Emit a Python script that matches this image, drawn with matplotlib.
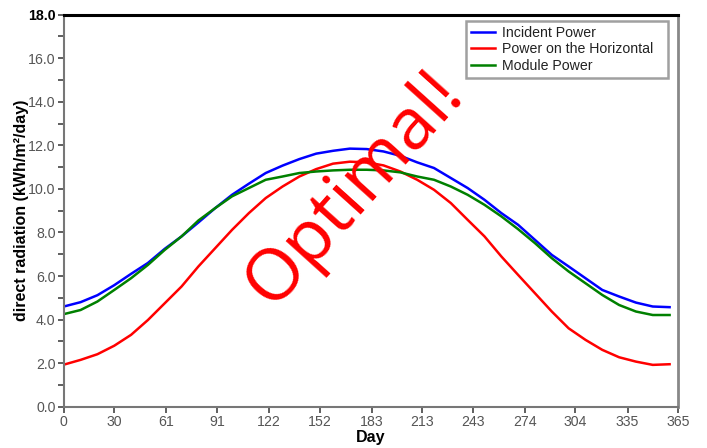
import matplotlib
matplotlib.use("Agg")
import matplotlib.pyplot as plt
from matplotlib.ticker import MultipleLocator

days = [0, 10, 20, 30, 40, 50, 60, 70, 80, 90, 100, 110, 120, 130, 140, 150, 160, 170, 180,
        190, 200, 210, 220, 230, 240, 250, 260, 270, 280, 290, 300, 310, 320, 330, 340, 350, 360]

incident_power = [4.60, 4.80, 5.12, 5.58, 6.10, 6.60, 7.25, 7.82, 8.46, 9.12, 9.73, 10.24, 10.73,
                  11.07, 11.37, 11.62, 11.75, 11.85, 11.83, 11.72, 11.52, 11.22, 10.96, 10.50,
                  10.04, 9.50, 8.89, 8.35, 7.66, 6.97, 6.44, 5.90, 5.36, 5.06, 4.78, 4.60, 4.57]

horizontal_power = [1.93, 2.15, 2.41, 2.80, 3.30, 3.98, 4.75, 5.52, 6.44, 7.28, 8.12, 8.89, 9.58,
                    10.11, 10.57, 10.91, 11.16, 11.25, 11.22, 11.08, 10.80, 10.42, 9.96, 9.35,
                    8.58, 7.82, 6.90, 6.05, 5.21, 4.37, 3.60, 3.07, 2.61, 2.27, 2.07, 1.92, 1.95]

module_power = [4.25, 4.44, 4.83, 5.36, 5.90, 6.51, 7.20, 7.82, 8.55, 9.12, 9.66, 10.04, 10.42,
                10.57, 10.73, 10.80, 10.85, 10.88, 10.88, 10.85, 10.76, 10.57, 10.42, 10.11,
                9.73, 9.27, 8.74, 8.15, 7.51, 6.82, 6.21, 5.67, 5.13, 4.67, 4.37, 4.21, 4.21]

x_ticks = [0, 30, 61, 91, 122, 152, 183, 213, 243, 274, 304, 335, 365]
y_ticks = [0.0, 2.0, 4.0, 6.0, 8.0, 10.0, 12.0, 14.0, 16.0, 18.0]

series_labels = ["Incident Power", "Power on the Horizontal", "Module Power"]
series_colors = ["#0000ff", "#ff0000", "#008000"]

plt.rcParams["font.family"] = ["Liberation Sans", "DejaVu Sans"]

fig = plt.figure(figsize=(7.07, 4.48), dpi=100)
ax = fig.add_axes([0.0902, 0.0922, 0.8688, 0.8750])

for vals, lab, col in zip([incident_power, horizontal_power, module_power], series_labels, series_colors):
    ax.plot(days, vals, color=col, lw=1.8, label=lab)

ax.set_xlim(0, 365)
ax.set_ylim(0, 18)
ax.set_xticks(x_ticks)
ax.set_xticklabels([str(t) for t in x_ticks])
ax.set_yticks(y_ticks)
ax.set_yticklabels([f"{t:.1f}" for t in y_ticks])
ax.yaxis.set_minor_locator(MultipleLocator(1.0))

ax.tick_params(axis="both", which="major", direction="out", length=4, width=1.2,
               colors="#444444", labelcolor="#555555", labelsize=10.2, pad=2)
ax.tick_params(axis="y", which="minor", direction="out", length=4, width=1.2, colors="#444444")
# 18.0 is drawn in black on top of the heavy top border
ax.get_yticklabels()[-1].set_color("black")
ax.get_yticklabels()[-1].set_fontweight("bold")

for side in ["left", "bottom"]:
    ax.spines[side].set_color("#777777")
    ax.spines[side].set_linewidth(1.5)
ax.spines["right"].set_color("#888888")
ax.spines["right"].set_linewidth(2.0)
ax.spines["top"].set_color("black")
ax.spines["top"].set_linewidth(2.2)

ax.set_xlabel("Day", fontsize=11.5, fontweight="bold", labelpad=1)
ax.set_ylabel("direct radiation (kWh/m\u00b2/day)", fontsize=11.5, fontweight="bold", labelpad=-1)

leg = ax.legend(loc="upper right", bbox_to_anchor=(0.655, 0.6, 0.329, 0.385), mode="expand",
                fontsize=10.2, frameon=True, fancybox=False, handlelength=1.7,
                handletextpad=0.45, borderpad=0.35, labelspacing=0.2, borderaxespad=0.0)
leg.get_frame().set_edgecolor("#888888")
leg.get_frame().set_linewidth(1.8)
for t in leg.get_texts():
    t.set_color("#222222")

ax.text(0.474, 0.556, "Optimal!", transform=ax.transAxes, color="#ff0000",
        fontsize=52, family=["Open Sans", "DejaVu Sans"], rotation=48,
        ha="center", va="center", rotation_mode="anchor")

fig.savefig("out.png", dpi=100)
